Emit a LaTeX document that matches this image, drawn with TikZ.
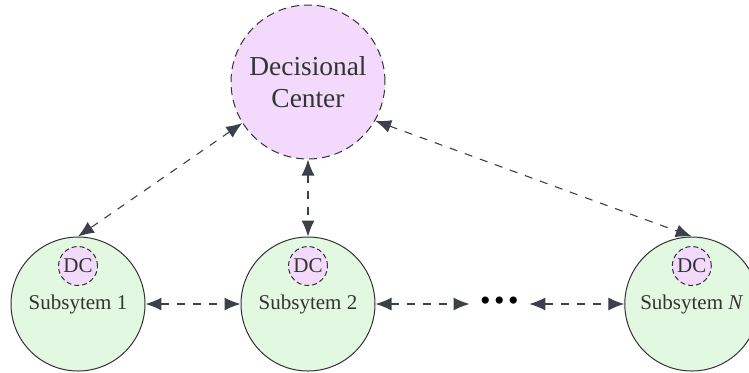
\documentclass[tikz,border=0pt]{standalone}
\usepackage{fontspec}
\setmainfont{Liberation Serif}
\usepackage{xcolor}
\usetikzlibrary{arrows.meta,positioning}
\definecolor{dcfill}{RGB}{243,218,252}
\definecolor{subfill}{RGB}{227,248,225}
\definecolor{edge}{RGB}{51,51,51}
\definecolor{linkcol}{RGB}{60,64,72}
\definecolor{txt}{RGB}{51,51,51}

\begin{document}
\begin{tikzpicture}[
    node distance=47.5pt,
    center/.style={draw=edge, circle, dashed, dash pattern=on 4pt off 2.5pt, line width=0.5pt, fill=dcfill, minimum size=77pt, inner sep=0pt, align=center, text=txt, font=\fontsize{13.7}{16}\selectfont},
    subsys/.style={draw=edge, circle, line width=0.5pt, fill=subfill, minimum size=67pt, inner sep=0pt, align=center, text=txt, font=\fontsize{10.5}{12.5}\selectfont},
    dcsmall/.style={draw=edge, circle, dashed, dash pattern=on 2.5pt off 1.5pt, line width=0.5pt, fill=dcfill, minimum size=19.5pt, inner sep=0pt, text=txt, font=\fontsize{10.5}{12.5}\selectfont},
    dotsbox/.style={minimum width=29.5pt, inner sep=0pt, font=\fontsize{15}{15}\selectfont},
    link/.style={{Latex[length=8pt,width=6.5pt]}-{Latex[length=8pt,width=6.5pt]}, draw=linkcol, line width=0.55pt, dash pattern=on 4pt off 4pt}
  ]
    \useasboundingbox (-154pt,-145pt) rectangle (220.5pt,41pt);
    \node[center] (dcenter) {Decisional\\Center};
    \node[subsys, below=38.5pt of dcenter] (sub2) {Subsytem 2};
    \node[subsys, left=of sub2] (sub1) {Subsytem 1};
    \node[dotsbox, right=47pt of sub2] (dots) {\textbullet\hspace{1.8pt}\textbullet\hspace{1.8pt}\textbullet};
    \node[subsys, right=of dots] (subn) {Subsytem \textit{N}};
    \node[dcsmall] at ([yshift=19pt]sub1.center) (dc1) {DC};
    \node[dcsmall] at ([yshift=19pt]sub2.center) (dc2) {DC};
    \node[dcsmall] at ([yshift=19pt]subn.center) (dcn) {DC};
    \draw[link] (dcenter.212) -- (sub1.north);
    \draw[link] (dcenter.south) -- (sub2.north);
    \draw[link] (dcenter.330) -- (subn.north);
    \draw[link] (sub1.east) -- (sub2.west);
    \draw[link] (sub2.east) -- (dots.west);
    \draw[link] (dots.east) -- (subn.west);
  \end{tikzpicture}
\end{document}
